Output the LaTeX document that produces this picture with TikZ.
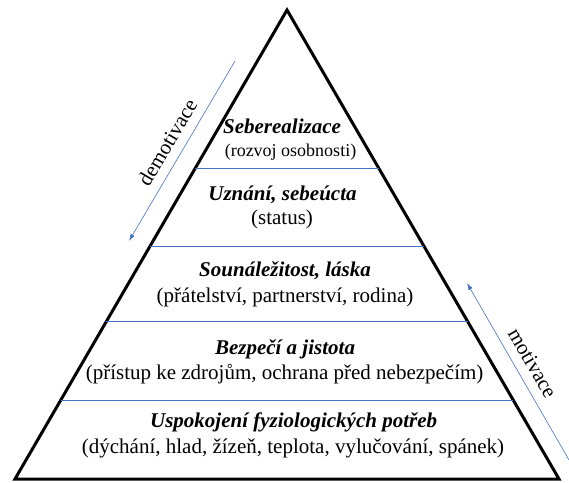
\documentclass[tikz,border=0pt]{standalone}
\usepackage{fontspec}
\setmainfont{Liberation Serif}
\usetikzlibrary{calc,arrows.meta}

\definecolor{lineblue}{HTML}{4472C4}

\tikzset{
	levelname/.style={anchor=base, font=\fontsize{21}{25}\selectfont\bfseries\itshape},
	levelnote/.style={anchor=base, font=\fontsize{21}{25}\selectfont},
	sidenote/.style={text=black, font=\fontsize{21}{25}\selectfont},
	divider/.style={color=lineblue, line width=0.8pt},
	flow/.style={color=lineblue, line width=0.6pt, -{Latex[length=7pt,width=4.5pt]}},
}

\begin{document}
\begin{tikzpicture}[x=1pt,y=1pt]
	% Page frame
	\useasboundingbox (0,0) rectangle (569,482);

	% Draw pyramid
	\coordinate (apex) at (287,472);
	\coordinate (bl) at (15,3);
	\coordinate (br) at (559,3);
	\draw[line width=3pt, line join=miter] (apex) -- (bl) -- (br) -- cycle;

	% Borders between levels
	\draw[divider] ($(apex)!0.337!(bl)$) -- ($(apex)!0.337!(br)$);
	\draw[divider] ($(apex)!0.503!(bl)$) -- ($(apex)!0.503!(br)$);
	\draw[divider] ($(apex)!0.665!(bl)$) -- ($(apex)!0.665!(br)$);
	\draw[divider] ($(apex)!0.832!(bl)$) -- ($(apex)!0.832!(br)$);

	% Levels, top to bottom
	%Level 5
	\node[levelname] (selfname) at (282,348) {Seberealizace};
	\node[levelnote, font=\fontsize{18}{22}\selectfont] (selfnote) at (290.5,325) {(rozvoj osobnosti)};
	%Level 4
	\node[levelname] (esteemname) at (282.5,281) {Uznání, sebeúcta};
	\node[levelnote] (esteemnote) at (282,257) {(status)};
	%Level 3
	\node[levelname] (lovename) at (285,206) {Sounáležitost, láska};
	\node[levelnote] (lovenote) at (285,180) {(přátelství, partnerství, rodina)};
	%Level 2
	\node[levelname] (safetyname) at (285,128) {Bezpečí a jistota};
	\node[levelnote] (safetynote) at (284.6,103) {(přístup ke zdrojům, ochrana před nebezpečím)};
	%Level 1
	\node[levelname] (bodyname) at (293.6,55) {Uspokojení fyziologických potřeb};
	\node[levelnote] (bodynote) at (293,29) {(dýchání, hlad, žízeň, teplota, vylučování, spánek)};

	% Arrows beside the pyramid
	% Down the left side
	\coordinate (demtop) at (235,421);
	\coordinate (dembot) at (129,241);
	\draw[flow] (demtop) -- node[sloped, above=6pt, sidenote] (demlabel) {demotivace} (dembot);
	% Up the right side
	\coordinate (motbot) at (569,22);
	\coordinate (mottop) at (467,199);
	\draw[flow] (motbot) -- node[sloped, above=6pt, sidenote] (motlabel) {motivace} (mottop);

\end{tikzpicture}
\end{document}
